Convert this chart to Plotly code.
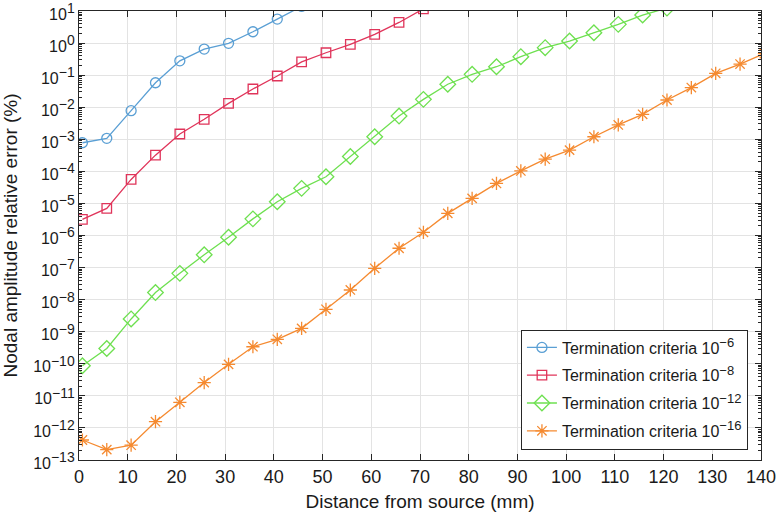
import plotly.graph_objects as go

# Distance from source (mm)
x_blue = [0.7, 5.7, 10.7, 15.7, 20.7, 25.7, 30.7, 35.7, 40.7, 45.7]
y_blue = [7.8e-4, 1.07e-3, 7.8e-3, 0.058, 0.28, 0.65, 0.98, 2.26, 5.6, 14]

x_red = [0.7, 5.7, 10.7, 15.7, 20.7, 25.7, 30.7, 35.7, 40.7, 45.7, 50.7, 55.7, 60.7, 65.7, 70.7]
y_red = [3.2e-6, 7.0e-6, 5.6e-5, 3.2e-4, 1.46e-3, 4.2e-3, 0.0132, 0.037, 0.094, 0.26, 0.5, 0.91, 1.87, 4.4, 11.7]

x_green = [0.7, 5.7, 10.7, 15.7, 20.7, 25.7, 30.7, 35.7, 40.7, 45.7, 50.7, 55.7, 60.7, 65.7,
           70.7, 75.7, 80.7, 85.7, 90.7, 95.7, 100.7, 105.7, 110.7, 115.7, 120.7]
y_green = [8.7e-11, 3.0e-10, 2.5e-9, 1.66e-8, 6.6e-8, 2.5e-7, 8.8e-7, 3.3e-6, 1.13e-5, 2.95e-5,
           6.8e-5, 2.9e-4, 1.2e-3, 5.3e-3, 0.0176, 0.052, 0.106, 0.183, 0.376, 0.72, 1.16, 2.1,
           3.84, 7.5, 12.3]

x_orange = [0.7, 5.7, 10.7, 15.7, 20.7, 25.7, 30.7, 35.7, 40.7, 45.7, 50.7, 55.7, 60.7, 65.7,
            70.7, 75.7, 80.7, 85.7, 90.7, 95.7, 100.7, 105.7, 110.7, 115.7, 120.7, 125.7, 130.7,
            135.7, 140.7]
y_orange = [4.2e-13, 2.1e-13, 2.9e-13, 1.56e-12, 6.3e-12, 2.6e-11, 9.6e-11, 3.4e-10, 5.8e-10,
            1.27e-9, 5.0e-9, 2.0e-8, 9.5e-8, 4.0e-7, 1.26e-6, 4.9e-6, 1.44e-5, 4.2e-5, 1.03e-4,
            2.4e-4, 4.6e-4, 1.2e-3, 2.8e-3, 6.0e-3, 0.0168, 0.041, 0.114, 0.222, 0.47]

SUP = '<sup><span style="font-size:%dpx">%s</span></sup>'
crit_exps = ["\u22126", "\u22128", "\u221212", "\u221216"]
names = ["Termination criteria 10" + SUP % (13, e) for e in crit_exps]

x_ticks = list(range(0, 141, 10))
y_exps = list(range(1, -14, -1))
y_tickvals = [10.0 ** e for e in y_exps]
y_ticktext = ["10" + SUP % (14, str(e).replace("-", "\u2212")) for e in y_exps]
minor_vals = [m * 10.0 ** e for e in range(-13, 1) for m in range(2, 10)]

FONT = "Liberation Sans, Arial, Helvetica, sans-serif"

fig = go.Figure()
series = [
    (x_blue, y_blue, "#5a9fd4", "circle-open", 10),
    (x_red, y_red, "#e0345a", "square-open", 9.5),
    (x_green, y_green, "#6ee050", "diamond-open", 12),
    (x_orange, y_orange, "#f58a30", "asterisk-open", 11),
]
for i, ((xs, ys, col, sym, sz), nm) in enumerate(zip(series, names)):
    fig.add_trace(go.Scatter(
        x=xs, y=ys, name=nm, mode="lines+markers", legendgroup="g%d" % i,
        line=dict(color=col, width=1.3),
        marker=dict(symbol=sym, size=sz, color=col, line=dict(color=col, width=1.3)),
    ))

fig.update_layout(
    width=780, height=520,
    margin=dict(l=79, r=19, t=11, b=60),
    paper_bgcolor="white", plot_bgcolor="white",
    font=dict(family=FONT, size=16, color="#1a1a1a"),
    showlegend=True,
    legend=dict(
        x=0.648, y=0.157, xanchor="left", yanchor="middle",
        bgcolor="white", bordercolor="#262626", borderwidth=1,
        font=dict(family=FONT, size=16, color="#1a1a1a"),
        tracegroupgap=4, itemwidth=30,
    ),
)
fig.update_xaxes(
    range=[0, 140], tickvals=x_ticks, ticktext=[str(v) for v in x_ticks],
    showgrid=True, gridcolor="#e3e3e3", gridwidth=1,
    showline=True, linecolor="#262626", linewidth=1.2, mirror="ticks",
    ticks="inside", ticklen=6, tickcolor="#262626",
    zeroline=False, automargin=False, ticklabeloverflow="allow",
    title=dict(text="Distance from source (mm)", font=dict(size=19), standoff=8),
    tickfont=dict(size=18),
)
fig.update_yaxes(
    type="log", range=[-13.0005, 1.0005],
    tickvals=y_tickvals, ticktext=y_ticktext,
    showgrid=True, gridcolor="#e3e3e3", gridwidth=1,
    showline=True, linecolor="#262626", linewidth=1.2, mirror="ticks",
    ticks="inside", ticklen=6, tickcolor="#262626",
    minor=dict(tickvals=minor_vals, ticks="inside", ticklen=3, tickcolor="#262626", showgrid=False),
    zeroline=False, automargin=False, ticklabeloverflow="allow", ticklabelshift=3,
    title=dict(text="Nodal amplitude relative error (%)", font=dict(size=19), standoff=11),
    tickfont=dict(size=16),
)

fig.write_html("out.html", config={"displayModeBar": False},
               post_script="document.body.style.margin='0px';")
